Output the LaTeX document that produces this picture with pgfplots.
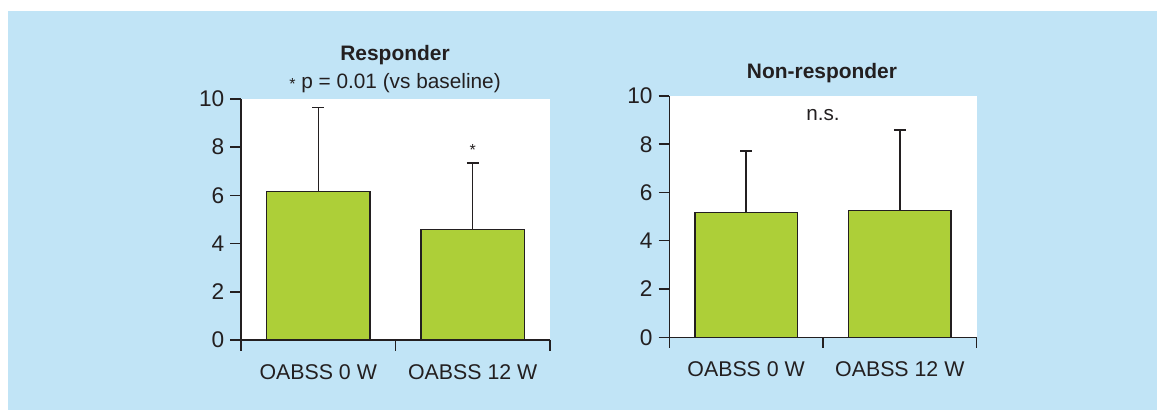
\documentclass[border=0pt]{standalone}
\usepackage{pgfplots}
\pgfplotsset{compat=1.18}
\usepackage{fontspec}
\setmainfont{Liberation Sans}
\definecolor{panelbg}{RGB}{193,228,246}
\definecolor{barfill}{RGB}{173,207,56}
\definecolor{ink}{RGB}{35,31,32}

\newcommand{\sig}{{\fontsize{12}{12}\selectfont\raisebox{-0.15ex}{*}}}

\pgfplotsset{
  ohpanel/.style={
    scale only axis,
    anchor=south west,
    xmin=-0.5, xmax=1.5,
    ymin=0, ymax=10,
    axis x line*=bottom,
    axis y line*=left,
    axis line style={ink, line width=1.1pt},
    axis background/.style={fill=white},
    ytick={0,2,4,6,8,10},
    xtick={-0.5,0.5,1.5},
    xticklabels={},
    extra x ticks={0,1},
    extra x tick labels={OABSS 0 W, OABSS 12 W},
    extra x tick style={major tick length=0pt,
      tick label style={yshift=-15pt, font=\fontsize{16}{18}\selectfont}},
    tick align=outside,
    major tick length=8pt,
    tick style={ink, line width=1.1pt},
    ticklabel style={font=\fontsize{17}{19}\selectfont, text=ink},
    yticklabel style={xshift=-1pt},
    /pgf/number format/assume math mode=true,
    ybar,
    bar width=0.667,
    enlarge x limits=false,
    clip=false,
  },
  ohbars/.style={
    fill=barfill, draw=ink, line width=1.1pt,
    error bars/.cd,
      y dir=plus, y explicit,
      error mark=-,
      error mark options={draw=ink, line width=1.1pt, mark size=4.5pt, rotate=90},
      error bar style={draw=ink, line width=1.1pt},
  },
}

\begin{document}
\begin{tikzpicture}[x=0.75pt, y=0.75pt]
  % page and panel background
  \fill[white] (0,0) rectangle (1159,410);
  \fill[panelbg] (8,0) rectangle (1157,399);

  % Responder
  \begin{axis}[ohpanel, at={(180.75pt,52.5pt)}, width=231.75pt, height=180.75pt]
    \addplot[ohbars] coordinates {(0,6.17) +- (0,3.48) (1,4.59) +- (0,2.75)};
    \node[text=ink] at (axis cs:1,7.9) {\sig};
  \end{axis}
  \node[font=\bfseries\fontsize{15.7}{18}\selectfont, text=ink] at (395,355) {Responder};
  \node[font=\fontsize{15.6}{18}\selectfont, text=ink] at (395,327) {\sig\ p = 0.01 (vs baseline)};

  % Non-responder
  \begin{axis}[ohpanel, at={(501.975pt,54.525pt)}, width=230.5pt, height=181pt]
    \addplot[ohbars] coordinates {(0,5.18) +- (0,2.54) (1,5.25) +- (0,3.34)};
    \node[font=\fontsize{15.5}{18}\selectfont, text=ink] at (axis cs:0.5,9.2) {n.s.};
  \end{axis}
  \node[font=\bfseries\fontsize{15.7}{18}\selectfont, text=ink] at (822,337) {Non-responder};
\end{tikzpicture}
\end{document}
